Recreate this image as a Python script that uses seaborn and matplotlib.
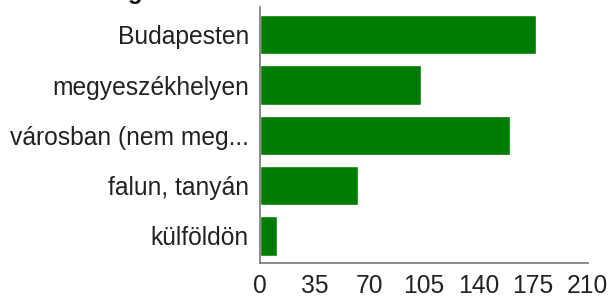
import matplotlib
matplotlib.use("Agg")
import matplotlib.pyplot as plt
import seaborn as sns
import pandas as pd

categories = ["Budapesten", "megyeszékhelyen", "városban (nem meg...", "falun, tanyán", "külföldön"]
values = [177, 103, 160, 63, 11]
xticks = [0, 35, 70, 105, 140, 175, 210]

df = pd.DataFrame({"hely": categories, "db": values})

sns.set_theme(style="white")
plt.rcParams["font.family"] = ["Liberation Sans", "DejaVu Sans"]

fig = plt.figure(figsize=(6.13, 2.97), dpi=100)
ax = fig.add_axes([260 / 613, 1 - 263.3 / 297, (587.7 - 260) / 613, (263.3 - 7.3) / 297])

sns.barplot(data=df, x="db", y="hely", order=categories, color="#007d00",
            saturation=1, width=0.78, ax=ax, orient="h")

ax.set_xlim(0, 210)
ax.set_ylim(4.545, -0.545)
ax.set_xticks(xticks)
ax.set_xticklabels([str(t) for t in xticks])
ax.set_xlabel("")
ax.set_ylabel("")

for s in ["top", "right"]:
    ax.spines[s].set_visible(False)
for s in ["left", "bottom"]:
    ax.spines[s].set_color("#777777")
    ax.spines[s].set_linewidth(1.2)

ax.tick_params(axis="x", direction="in", length=5, width=1, color="#777777",
               labelsize=17.7, labelcolor="#222222", pad=8)
ax.tick_params(axis="y", direction="out", length=5, width=1, color="#999999",
               labelsize=17.7, labelcolor="#222222", pad=3)

fig.text(128 / 613, 1 + 1.0 / 297, "g", fontsize=17, fontweight="bold",
         color="#111111", va="baseline", ha="left")

fig.savefig("out.png", dpi=100)
